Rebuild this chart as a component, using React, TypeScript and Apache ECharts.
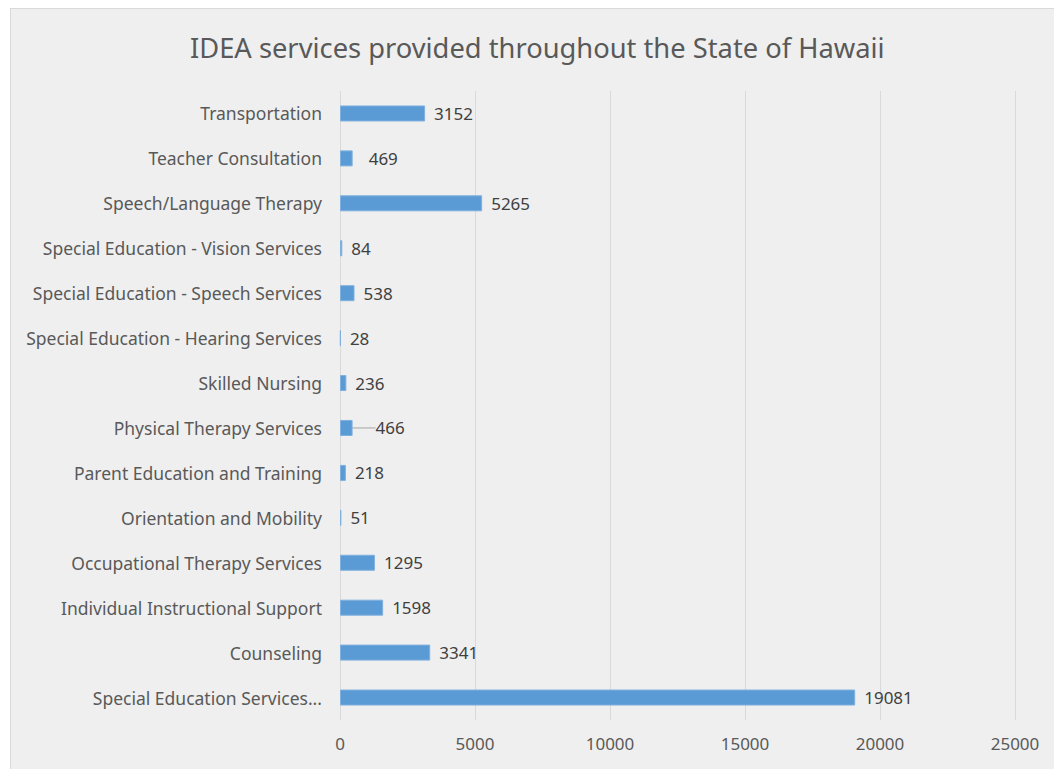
import React, { useEffect, useRef } from "react";
import * as echarts from "echarts";

const TITLE = "IDEA services provided throughout the State of Hawaii";
const categories = [
  "Special Education Services...",
  "Counseling",
  "Individual Instructional Support",
  "Occupational Therapy Services",
  "Orientation and Mobility",
  "Parent Education and Training",
  "Physical Therapy Services",
  "Skilled Nursing",
  "Special Education - Hearing Services",
  "Special Education - Speech Services",
  "Special Education - Vision Services",
  "Speech/Language Therapy",
  "Teacher Consultation",
  "Transportation",
];
const values = [19081, 3341, 1598, 1295, 51, 218, 466, 236, 28, 538, 84, 5265, 469, 3152];
const xMin = 0;
const xMax = 25000;
const xStep = 5000;

const FONT = "Noto Sans";

export default function App() {
  const ref = useRef<HTMLDivElement>(null);
  useEffect(() => {
    if (!ref.current) return;
    const chart = echarts.init(ref.current, undefined, { renderer: "svg" });
    chart.setOption({
      animation: false,
      backgroundColor: "#efefef",
      title: {
        text: TITLE,
        left: 174,
        top: 20,
        textStyle: { fontFamily: FONT, fontSize: 27.3, fontWeight: "normal", color: "#595959" },
      },
      grid: { left: 329, right: 39, top: 82, bottom: 49, containLabel: false },
      xAxis: {
        type: "value",
        min: xMin,
        max: xMax,
        interval: xStep,
        axisLine: { show: false },
        axisTick: { show: false },
        axisLabel: {
          color: "#595959",
          fontFamily: FONT,
          fontSize: 17,
          margin: 15,
          formatter: (v: number) => String(v),
        },
        splitLine: { show: true, lineStyle: { color: "#d9d9d9", width: 1 } },
      },
      yAxis: {
        type: "category",
        data: categories,
        axisLine: { show: false },
        axisTick: { show: false },
        axisLabel: { color: "#595959", fontFamily: FONT, fontSize: 17.5, margin: 18 },
        splitLine: { show: false },
      },
      series: [
        {
          type: "bar",
          data: values.map((v, i) =>
            i === 6 ? { value: v, labelLine: { show: true } } : { value: v }
          ),
          barWidth: 16,
          itemStyle: { color: "#5b9bd5", borderColor: "#7fb0de", borderWidth: 1 },
          label: {
            show: true,
            position: "right",
            distance: 9,
            color: "#404040",
            fontFamily: FONT,
            fontSize: 17,
          },
          labelLine: { show: false, lineStyle: { color: "#a6a6a6", width: 1 } },
          labelLayout: (p: any) => {
            if (p.dataIndex === 6) return { dx: 14 };
            if (p.dataIndex === 12) return { dx: 7 };
            return {};
          },
        },
      ],
    });
    return () => chart.dispose();
  }, []);
  return (
    <div
      ref={ref}
      style={{
        position: "fixed",
        left: 10,
        top: 8,
        width: 1044,
        height: 761,
        borderTop: "1px solid #d9d9d9",
        borderLeft: "1px solid #d9d9d9",
        boxSizing: "border-box",
      }}
    />
  );
}
